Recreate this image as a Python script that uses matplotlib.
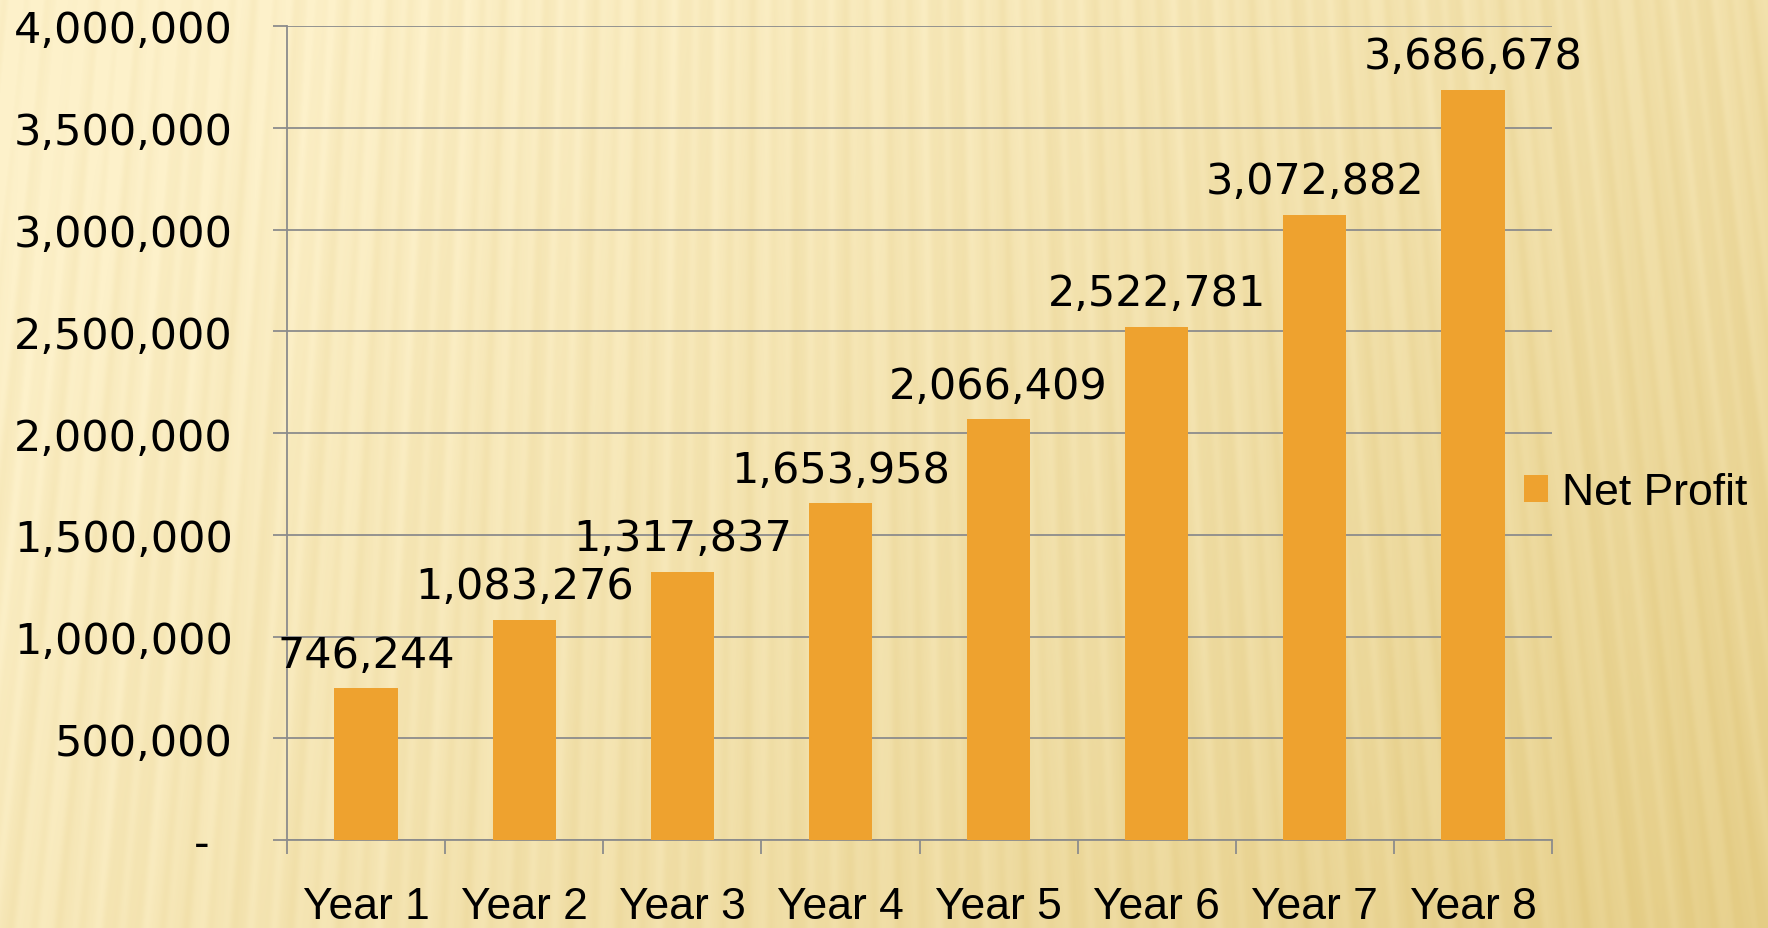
import numpy as np
import matplotlib
matplotlib.use('Agg')
import matplotlib.pyplot as plt

# chart data
categories = ['Year 1', 'Year 2', 'Year 3', 'Year 4',
              'Year 5', 'Year 6', 'Year 7', 'Year 8']
net_profit = [746244, 1083276, 1317837, 1653958,
              2066409, 2522781, 3072882, 3686678]
y_ticks = [0, 500000, 1000000, 1500000, 2000000,
           2500000, 3000000, 3500000, 4000000]

BAR_COLOR = '#EEA22F'
GRID_COLOR = '#8C8C8C'
NUM_FONT = ['DejaVu Sans']
TXT_FONT = ['Liberation Sans', 'DejaVu Sans']
NUM_FS = 31
TXT_FS = 32

plt.rcParams['font.family'] = NUM_FONT

W, H = 1768, 929
fig = plt.figure(figsize=(W / 100, H / 100), dpi=100)

# background: warm gradient with soft near-vertical streaks
bg_ax = fig.add_axes([0, 0, 1, 1], zorder=-10)
bg_ax.set_axis_off()
xx, yy = np.meshgrid(np.linspace(0, 1, W), np.linspace(0, 1, H))
light = np.array([253, 241, 202]) / 255.0
dark = np.array([228, 204, 132]) / 255.0
t = np.clip(0.55 * xx + 0.3 * yy + 0.15 * (xx * yy) - 0.05, 0, 1)
tilt = 0.10 - 0.22 * xx
px = xx * W + (yy - 0.5) * H * tilt
streak = (0.55 * np.sin(px * 2 * np.pi / 24.0)
          + 0.30 * np.sin(px * 2 * np.pi / 53.0 + 1.3)
          + 0.15 * np.sin(px * 2 * np.pi / 11.0 + 0.4))
t = np.clip(t + 0.13 * streak, 0, 1)
img = light[None, None, :] * (1 - t[..., None]) + dark[None, None, :] * t[..., None]
bg_ax.imshow(img, aspect='auto', extent=[0, 1, 0, 1], origin='upper')

ax = fig.add_axes([287 / W, 1 - 841 / H, (1552 - 287) / W, (841 - 27) / H])
ax.patch.set_alpha(0)

x = np.arange(len(categories))
bars = ax.bar(x, net_profit, width=0.4, color=BAR_COLOR, zorder=3,
              label='Net Profit')
ax.bar_label(bars, labels=['{:,}'.format(v) for v in net_profit],
             padding=9, fontsize=NUM_FS, color='black', zorder=4)

ax.set_xlim(-0.5, len(categories) - 0.5)
ax.set_ylim(0, 4000000)
ax.set_yticks(y_ticks)
ax.set_yticklabels(['' if v == 0 else '{:,}'.format(v) for v in y_ticks])
ax.yaxis.grid(True, color=GRID_COLOR, linewidth=1.3, zorder=0)
# zero is shown as a dash, set a little left like the source
ax.annotate('-', xy=(0, 0), xycoords=('axes fraction', 'data'),
            xytext=(-78, 0), textcoords='offset pixels',
            ha='right', va='center_baseline', fontsize=NUM_FS)

ax.set_xticks(x)
ax.set_xticklabels(categories, family=TXT_FONT)
ax.set_xticks(np.arange(len(categories) + 1) - 0.5, minor=True)
ax.tick_params(axis='x', which='major', length=0, pad=33, labelsize=TXT_FS)
ax.tick_params(axis='x', which='minor', length=10, width=1.3,
               color=GRID_COLOR, direction='out')
ax.tick_params(axis='y', length=10, width=1.3, color=GRID_COLOR,
               direction='out', pad=29, labelsize=NUM_FS)

for side in ['top', 'right']:
    ax.spines[side].set_visible(False)
for side in ['left', 'bottom']:
    ax.spines[side].set_color(GRID_COLOR)
    ax.spines[side].set_linewidth(1.3)

fig.legend(handles=[bars], labels=['Net Profit'], loc='center left',
           bbox_to_anchor=(1524 / W, 1 - 494 / H), frameon=False,
           prop={'family': TXT_FONT, 'size': TXT_FS},
           handlelength=0.55, handleheight=0.55,
           handletextpad=0.3, borderpad=0, borderaxespad=0)

fig.savefig('out.png', dpi=100)
